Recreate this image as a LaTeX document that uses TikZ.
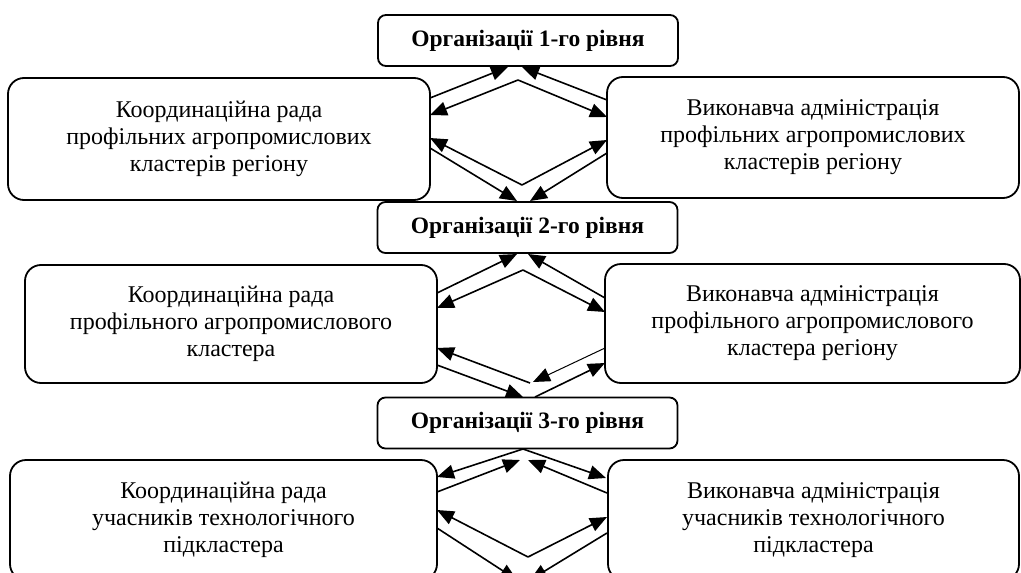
\documentclass[tikz,border=0pt]{standalone}
\usepackage{fontspec}
\setmainfont{Liberation Serif}
\usetikzlibrary{arrows.meta}
\begin{document}
\begin{tikzpicture}[x=1pt,y=-1pt,
  side/.style={draw,line width=1.8pt,rounded corners=16pt,align=center,
    font=\fontsize{24}{27}\selectfont,inner sep=0pt},
  lvl/.style={draw,line width=1.8pt,rounded corners=8pt,align=center,
    font=\fontsize{23.5}{26}\selectfont\bfseries,inner sep=0pt,
    minimum width=300pt,minimum height=51pt},
  conn/.style={line width=1.6pt,-{Triangle[length=17pt,width=14pt]}},
  thinconn/.style={line width=1pt,-{Triangle[length=17pt,width=14pt]}}]
\useasboundingbox (0,0) rectangle (1021,573);
\clip (0,0) rectangle (1021,573);
% level boxes
\node[lvl] (o1) at (528,40.5) {Організації 1-го рівня};
\node[lvl] (o2) at (527.5,227.5) {Організації 2-го рівня};
\node[lvl] (o3) at (527.5,423) {Організації 3-го рівня};
% side boxes
\node[side,minimum width=422pt,minimum height=122pt] (l1) at (219,139)
  {Координаційна рада\\профільних агропромислових\\кластерів регіону};
\node[side,minimum width=412pt,minimum height=121pt] (r1) at (813,137.5)
  {Виконавча адміністрація\\профільних агропромислових\\кластерів регіону};
\node[side,minimum width=412pt,minimum height=118pt] (l2) at (231,324)
  {Координаційна рада\\профільного агропромислового\\кластера};
\node[side,minimum width=415pt,minimum height=119pt] (r2) at (812.5,323.5)
  {Виконавча адміністрація\\профільного агропромислового\\кластера регіону};
\node[side,minimum width=427pt,minimum height=120pt] (l3) at (223.5,520)
  {Координаційна рада\\учасників технологічного\\підкластера};
\node[side,minimum width=411pt,minimum height=120pt] (r3) at (813.5,520)
  {Виконавча адміністрація\\учасників технологічного\\підкластера};
% connector end points
\coordinate (a1s) at (430,98);  \coordinate (a1e) at (508,67);
\coordinate (ap1) at (518,80);
\coordinate (a2e) at (430,115);
\coordinate (a3s) at (607,100); \coordinate (a3e) at (522,67);
\coordinate (a4e) at (607,117);
\coordinate (bp1) at (522,185);
\coordinate (b1e) at (430,138);
\coordinate (b2s) at (430,148); \coordinate (b2e) at (517,201);
\coordinate (b3e) at (607,140);
\coordinate (b4s) at (607,153); \coordinate (b4e) at (530,201);
\coordinate (c1s) at (437,293); \coordinate (c1e) at (517,254);
\coordinate (cp1) at (523,270);
\coordinate (c2e) at (437,308);
\coordinate (c3s) at (605,298); \coordinate (c3e) at (528,254);
\coordinate (c4e) at (605,312);
\coordinate (dp1) at (530,383);
\coordinate (d1e) at (437,348);
\coordinate (d2s) at (437,365); \coordinate (d2e) at (523,397);
\coordinate (d3s) at (605,348); \coordinate (d3e) at (533,382);
\coordinate (d4s) at (535,397); \coordinate (d4e) at (605,363);
\coordinate (ep1) at (523,449);
\coordinate (e1e) at (437,477);
\coordinate (e2e) at (606,478);
\coordinate (e3s) at (437,492); \coordinate (e3e) at (520,460);
\coordinate (e4s) at (607,493); \coordinate (e4e) at (528,460);
\coordinate (fp1) at (528,557);
\coordinate (f1e) at (437,510);
\coordinate (f2s) at (437,528); \coordinate (f2e) at (517,580);
\coordinate (f3e) at (607,517);
\coordinate (f4s) at (607,533); \coordinate (f4e) at (530,580);
% level 1
\draw[conn] (a1s) -- (a1e);
\draw[conn] (ap1) -- (a2e);
\draw[conn] (a3s) -- (a3e);
\draw[conn] (ap1) -- (a4e);
\draw[conn] (bp1) -- (b1e);
\draw[conn] (b2s) -- (b2e);
\draw[conn] (bp1) -- (b3e);
\draw[conn] (b4s) -- (b4e);
% level 2
\draw[conn] (c1s) -- (c1e);
\draw[conn] (cp1) -- (c2e);
\draw[conn] (c3s) -- (c3e);
\draw[conn] (cp1) -- (c4e);
\draw[conn] (dp1) -- (d1e);
\draw[conn] (d2s) -- (d2e);
\draw[thinconn] (d3s) -- (d3e);
\draw[conn] (d4s) -- (d4e);
% level 3
\draw[conn] (ep1) -- (e1e);
\draw[conn] (ep1) -- (e2e);
\draw[conn] (e3s) -- (e3e);
\draw[conn] (e4s) -- (e4e);
\draw[conn] (fp1) -- (f1e);
\draw[conn] (f2s) -- (f2e);
\draw[conn] (fp1) -- (f3e);
\draw[conn] (f4s) -- (f4e);
\end{tikzpicture}
\end{document}
